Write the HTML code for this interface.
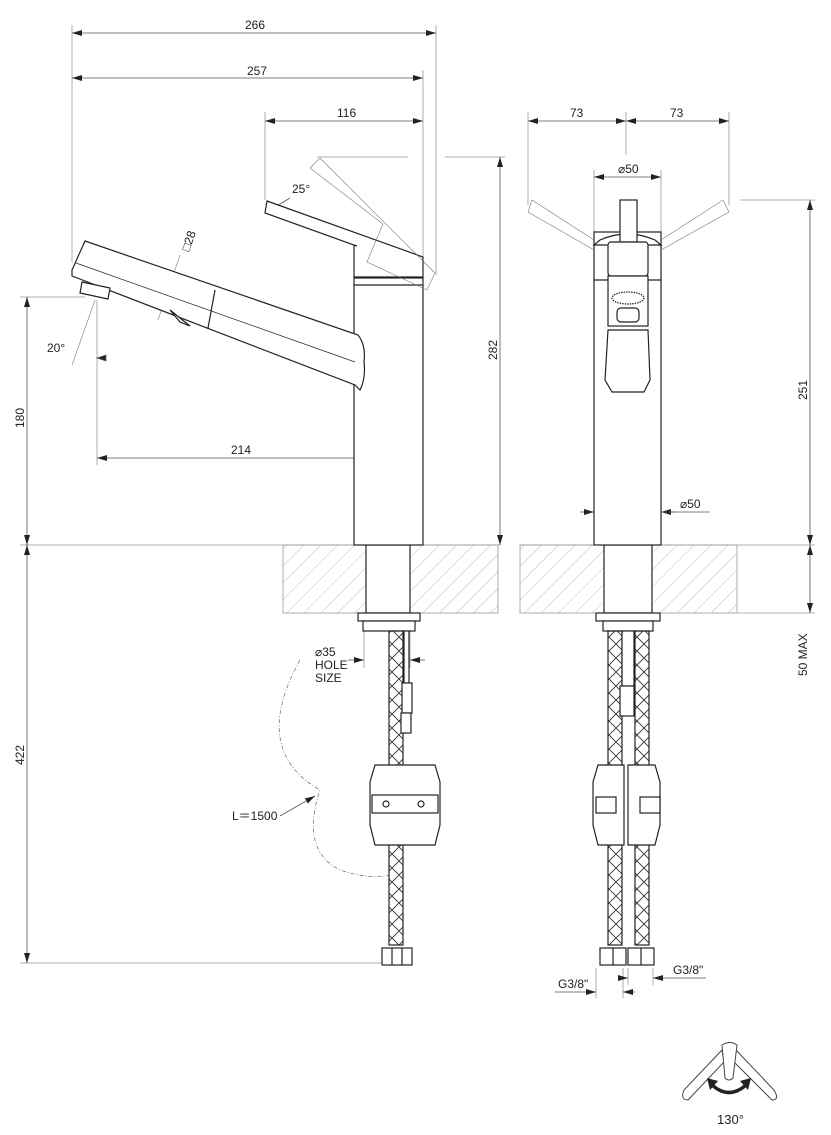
<!DOCTYPE html>
<html><head><meta charset="utf-8"><style>
html,body{margin:0;padding:0;background:#fff}
svg{display:block}
text{font-family:"Liberation Sans",sans-serif;font-size:12px;fill:#222}
</style></head><body>
<svg width="831" height="1135" viewBox="0 0 831 1135" xmlns="http://www.w3.org/2000/svg">
<defs>
<marker id="a" viewBox="0 0 10 6" refX="10" refY="3" markerWidth="10" markerHeight="6" orient="auto-start-reverse" markerUnits="userSpaceOnUse"><path d="M0,0L10,3L0,6z" fill="#222"/></marker>
<pattern id="h" width="12" height="12" patternUnits="userSpaceOnUse" patternTransform="rotate(45)"><line x1="0" y1="0" x2="0" y2="12" stroke="#aaa" stroke-width="0.8"/></pattern>
<pattern id="br" width="14" height="14" patternUnits="userSpaceOnUse"><path d="M0,0L14,14M14,0L0,14" stroke="#333" stroke-width="0.9"/></pattern>
</defs>
<g stroke="#999" stroke-width="0.8" fill="none">
<line x1="72" y1="25" x2="72" y2="262"/><line x1="436" y1="25" x2="436" y2="275"/>
<line x1="423" y1="70" x2="423" y2="262"/><line x1="265" y1="112" x2="265" y2="200"/>
<line x1="445" y1="157" x2="505" y2="157"/><line x1="317" y1="157" x2="408" y2="157"/>
<line x1="20" y1="297" x2="85" y2="297"/><line x1="97" y1="300" x2="97" y2="465"/>
<line x1="390" y1="450" x2="390" y2="484"/>
<line x1="20" y1="545" x2="500" y2="545"/><line x1="520" y1="545" x2="815" y2="545"/>
<line x1="20" y1="963" x2="385" y2="963"/>
<line x1="528" y1="112" x2="528" y2="205"/><line x1="729" y1="112" x2="729" y2="205"/><line x1="626" y1="112" x2="626" y2="155"/>
<line x1="740" y1="200" x2="815" y2="200"/><line x1="737" y1="613" x2="815" y2="613"/>
<line x1="594" y1="170" x2="594" y2="232"/><line x1="661" y1="170" x2="661" y2="232"/>
<line x1="364" y1="625" x2="364" y2="668"/><line x1="410" y1="625" x2="410" y2="668"/>
<line x1="596" y1="968" x2="596" y2="998"/><line x1="623" y1="968" x2="623" y2="998"/><line x1="628" y1="968" x2="628" y2="985"/><line x1="653" y1="968" x2="653" y2="985"/>
<line x1="95" y1="300" x2="72" y2="365"/>
<line x1="158" y1="320" x2="180" y2="255"/>
</g>
<g stroke="#555" stroke-width="0.8" fill="none">
<line x1="72" y1="33" x2="436" y2="33" marker-start="url(#a)" marker-end="url(#a)"/>
<line x1="72" y1="78" x2="423" y2="78" marker-start="url(#a)" marker-end="url(#a)"/>
<line x1="265" y1="121" x2="423" y2="121" marker-start="url(#a)" marker-end="url(#a)"/>
<line x1="500" y1="157" x2="500" y2="545" marker-start="url(#a)" marker-end="url(#a)"/>
<line x1="27" y1="297" x2="27" y2="545" marker-start="url(#a)" marker-end="url(#a)"/>
<line x1="27" y1="545" x2="27" y2="963" marker-start="url(#a)" marker-end="url(#a)"/>
<line x1="97" y1="458" x2="390" y2="458" marker-start="url(#a)" marker-end="url(#a)"/>
<line x1="528" y1="121" x2="626" y2="121" marker-start="url(#a)" marker-end="url(#a)"/>
<line x1="626" y1="121" x2="729" y2="121" marker-start="url(#a)" marker-end="url(#a)"/>
<line x1="594" y1="177" x2="661" y2="177" marker-start="url(#a)" marker-end="url(#a)"/>
<line x1="810" y1="200" x2="810" y2="545" marker-start="url(#a)" marker-end="url(#a)"/>
<line x1="810" y1="545" x2="810" y2="613" marker-start="url(#a)" marker-end="url(#a)"/>
<line x1="580" y1="512" x2="594" y2="512" marker-end="url(#a)"/><line x1="675" y1="512" x2="661" y2="512" marker-end="url(#a)"/><line x1="661" y1="512" x2="710" y2="512"/>
<line x1="348" y1="660" x2="364" y2="660" marker-end="url(#a)"/><line x1="425" y1="660" x2="410" y2="660" marker-end="url(#a)"/>
<line x1="555" y1="992" x2="596" y2="992" marker-end="url(#a)"/><line x1="635" y1="992" x2="623" y2="992" marker-end="url(#a)"/>
<line x1="618" y1="978" x2="628" y2="978" marker-end="url(#a)"/><line x1="706" y1="978" x2="653" y2="978" marker-end="url(#a)"/>
<line x1="280" y1="816" x2="315" y2="796" marker-end="url(#a)"/>
<path d="M97,358L106,355L106,361z" fill="#222"/>
<line x1="290" y1="198" x2="270" y2="210"/>
</g>
<text x="245" y="29">266</text><text x="247" y="75">257</text><text x="337" y="117">116</text>
<text x="292" y="193">25°</text><text x="47" y="352">20°</text><text x="231" y="454">214</text>
<text transform="translate(497,360) rotate(-90)">282</text>
<text transform="translate(24,428) rotate(-90)">180</text>
<text transform="translate(24,765) rotate(-90)">422</text>
<text transform="translate(189,252) rotate(-70)">□28</text>
<text x="570" y="117">73</text><text x="670" y="117">73</text>
<text x="618" y="173">⌀50</text><text x="680" y="508">⌀50</text>
<text transform="translate(807,400) rotate(-90)">251</text>
<text transform="translate(807,676) rotate(-90)">50 MAX</text>
<text x="315" y="656">⌀35</text><text x="315" y="669">HOLE</text><text x="315" y="682">SIZE</text>
<text x="232" y="820">L＝1500</text>
<text x="558" y="988">G3/8"</text><text x="673" y="974">G3/8"</text>
<text x="717" y="1124" style="font-size:13px">130°</text>
<rect x="283" y="545" width="215" height="68" fill="url(#h)" stroke="#999" stroke-width="0.8"/>
<rect x="520" y="545" width="217" height="68" fill="url(#h)" stroke="#999" stroke-width="0.8"/>
<g stroke="#222" stroke-width="1.2" fill="#fff">
<rect x="366" y="545" width="44" height="68"/>
<rect x="354" y="278" width="69" height="267"/>
<line x1="354" y1="285" x2="423" y2="285"/>
<path d="M267,201L423,257L423,277L354,277L354,245L265,213Z"/>
<line x1="354" y1="245" x2="357" y2="246"/>
<path d="M320,158L435,273L427,290L367,262L383,224L310,168Z" fill="none" stroke="#777" stroke-width="0.6"/>
<path d="M85,241L358,335Q366,345 364,362Q366,378 360,390L355,385L72,276L72,270Z"/>
<path d="M76,263L355,362" fill="none" stroke-width="0.7"/>
<path d="M215,290L208,328" fill="none"/>
<path d="M82,282L110,288L108,299L80,293Z"/>
<path d="M170,310L190,326L180,322Z"/>
<rect x="358" y="613" width="62" height="8"/>
<rect x="363" y="621" width="52" height="10"/>
<rect x="389" y="631" width="14" height="314" fill="url(#br)"/>
<rect x="404" y="631" width="5" height="80"/>
<rect x="402" y="683" width="10" height="30"/>
<rect x="401" y="713" width="10" height="20"/>
<rect x="382" y="948" width="30" height="17"/>
<line x1="392" y1="948" x2="392" y2="965"/><line x1="402" y1="948" x2="402" y2="965"/>
<path d="M375,765L435,765L440,782L440,825L435,845L375,845L370,825L370,782Z"/>
<rect x="372" y="795" width="66" height="18" fill="none"/>
<circle cx="386" cy="804" r="3"/><circle cx="421" cy="804" r="3"/>
<rect x="604" y="545" width="48" height="68"/>
<rect x="594" y="232" width="67" height="313"/>
<line x1="594" y1="280" x2="661" y2="280"/>
<path d="M600,240Q627,228 655,240L661,245L594,245Z" fill="#fff"/>
<rect x="620" y="200" width="17" height="42"/>
<rect x="608" y="242" width="40" height="34" rx="3"/>
<rect x="608" y="276" width="40" height="50"/>
<ellipse cx="628" cy="298" rx="16" ry="6" stroke-dasharray="1.5 1"/>
<rect x="617" y="308" width="22" height="14" rx="4"/>
<path d="M608,330L648,330L650,380L644,392L612,392L605,380Z"/>
<g stroke="#777" stroke-width="0.6" fill="none">
<path d="M594,240L532,200L528,212L594,250"/>
<path d="M661,240L723,200L729,212L661,250"/>
</g>
<rect x="596" y="613" width="64" height="8"/>
<rect x="603" y="621" width="50" height="10"/>
<rect x="608" y="631" width="14" height="314" fill="url(#br)"/>
<rect x="635" y="631" width="14" height="314" fill="url(#br)"/>
<rect x="622" y="631" width="12" height="55"/>
<rect x="620" y="686" width="14" height="30"/>
<path d="M598,765L624,765L624,845L598,845L593,825L593,782Z"/>
<path d="M628,765L655,765L660,782L660,825L655,845L628,845Z"/>
<rect x="596" y="797" width="20" height="16"/><rect x="640" y="797" width="20" height="16"/>
<rect x="600" y="948" width="26" height="17"/><rect x="628" y="948" width="26" height="17"/>
<line x1="613" y1="948" x2="613" y2="965"/><line x1="641" y1="948" x2="641" y2="965"/>
</g>
<path d="M300,660Q250,750 320,790Q300,850 340,870Q370,880 390,875" fill="none" stroke="#666" stroke-width="0.7" stroke-dasharray="4 2 1 2"/>
<g stroke="#444" stroke-width="1" fill="#fff">
<path d="M722,1050L684,1090Q680,1100 688,1100L724,1062Z"/>
<path d="M736,1050L774,1090Q780,1100 772,1100L734,1062Z"/>
<path d="M722,1045Q730,1040 737,1045L733,1078Q729,1082 725,1078Z"/>
</g>
<path d="M712,1085Q729,1100 746,1085" fill="none" stroke="#222" stroke-width="3.5"/>
<path d="M707,1078L718,1081L710,1090Z M751,1078L740,1081L748,1090Z" fill="#222"/>
</svg>
</body></html>
